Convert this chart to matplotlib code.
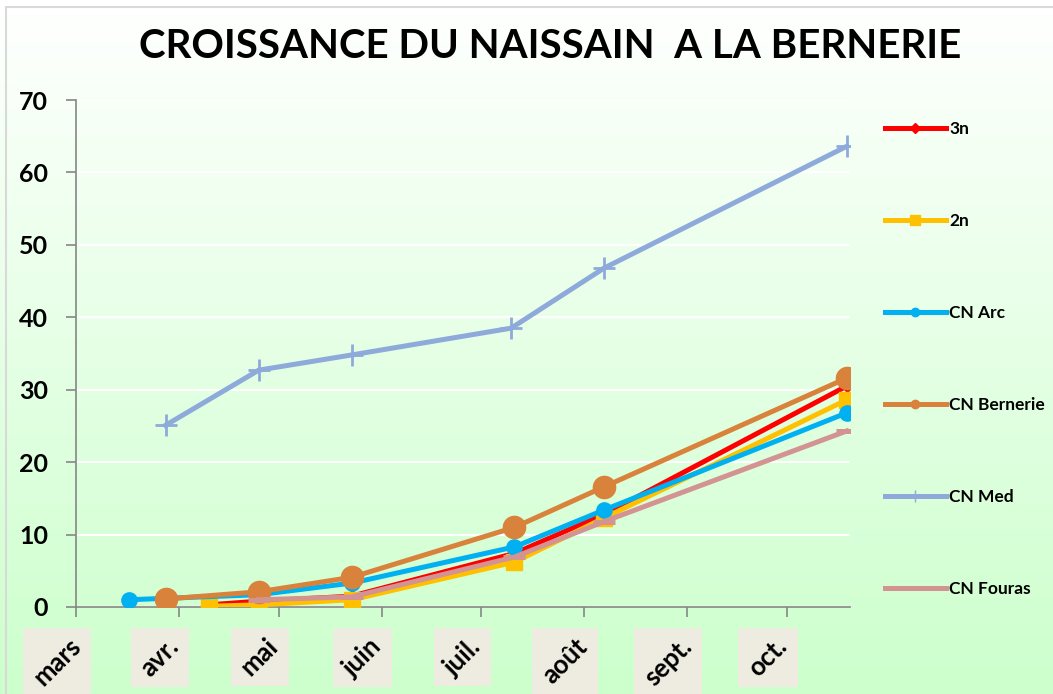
import datetime
import numpy as np
import matplotlib
matplotlib.use('Agg')
import matplotlib.pyplot as plt
import matplotlib.dates as mdates
import matplotlib.transforms as mtransforms
from matplotlib.lines import Line2D
from matplotlib.patches import Rectangle


def d(m, day):
    return datetime.date(2011, m, day)


# data
months = ['mars', 'avr.', 'mai', 'juin', 'juil.', 'août', 'sept.', 'oct.']
month_starts = [d(m, 1) for m in range(3, 11)]

dates_3n = [d(4, 10), d(4, 25), d(5, 23), d(7, 11), d(8, 7), d(10, 19)]
vals_3n = [0.3, 0.8, 1.5, 7.4, 12.8, 30.5]

dates_2n = [d(4, 10), d(4, 25), d(5, 23), d(7, 11), d(8, 7), d(10, 19)]
vals_2n = [0.1, 0.3, 1.0, 6.2, 12.3, 28.6]

dates_arc = [d(3, 17), d(3, 28), d(4, 25), d(5, 23), d(7, 11), d(8, 7), d(10, 19)]
vals_arc = [1.0, 1.2, 1.7, 3.3, 8.3, 13.4, 26.8]

dates_bern = [d(3, 28), d(4, 25), d(5, 23), d(7, 11), d(8, 7), d(10, 19)]
vals_bern = [1.1, 2.1, 4.1, 11.0, 16.6, 31.6]

dates_med = [d(3, 28), d(4, 25), d(5, 23), d(7, 10), d(8, 7), d(10, 19)]
vals_med = [25.1, 32.7, 34.8, 38.5, 46.8, 63.6]

dates_four = [d(4, 25), d(5, 23), d(7, 11), d(8, 7), d(10, 19)]
vals_four = [1.0, 1.4, 6.9, 11.8, 24.3]

W, H = 1053, 694
plt.rcParams['font.family'] = ['Lato', 'DejaVu Sans']
plt.rcParams['font.weight'] = 'bold'

fig = plt.figure(figsize=(W / 100, H / 100), dpi=100)

# gradient background over the whole figure
bg = fig.add_axes([0, 0, 1, 1], zorder=-10)
top = np.array([1.0, 1.0, 1.0])
bot = np.array([0.80, 1.0, 0.80])
t = np.linspace(0, 1, 256)[:, None]
grad = top + (bot - top) * t
bg.imshow(grad[:, None, :].repeat(2, axis=1), aspect='auto', extent=[0, 1, 0, 1])
bg.set_xlim(0, 1)
bg.set_ylim(0, 1)
bg.axis('off')
bg.add_patch(Rectangle((6 / W, -0.1), 1.2, 1.1 - 7 / H, fill=False,
                       edgecolor='#d9d9d9', lw=1.5))

ax = fig.add_axes([76 / W, 1 - 607 / H, (850 - 76) / W, (607 - 100) / H])
ax.set_facecolor('none')

lw = 3.6
ax.plot(dates_3n, vals_3n, color='#ff0000', lw=lw, marker='D', ms=6, zorder=3)
ax.plot(dates_2n, vals_2n, color='#ffc000', lw=lw, marker='s', ms=11, zorder=4)
ax.plot(dates_arc, vals_arc, color='#00b0f0', lw=lw, marker='o', ms=11, zorder=5)
ax.plot(dates_bern, vals_bern, color='#d9823b', lw=lw, marker='o', ms=16, zorder=6)
ax.plot(dates_med, vals_med, color='#8eaadb', lw=lw, marker='+', ms=16, mew=2, zorder=7)
ax.plot(dates_four, vals_four, color='#d39393', lw=lw, marker='_', ms=16, mew=lw, zorder=8)

ax.set_xlim(d(3, 1), d(10, 20))
ax.set_ylim(0, 70)
ax.set_yticks(range(0, 71, 10))
ax.yaxis.grid(True, color='white', lw=1.5)
ax.set_axisbelow(True)
for s in ['top', 'right']:
    ax.spines[s].set_visible(False)
for s in ['left', 'bottom']:
    ax.spines[s].set_color('#868686')
    ax.spines[s].set_linewidth(1.2)
ax.tick_params(axis='y', length=7, width=1.2, color='#868686', pad=13, labelsize=18)
ax.set_xticks(month_starts)
ax.set_xticklabels([])
ax.tick_params(axis='x', length=7, width=1.2, color='#868686')

# month labels, rotated, on beige boxes
off = mtransforms.ScaledTranslation(-19 / 100, 0, fig.dpi_scale_trans)
trans = mtransforms.blended_transform_factory(ax.transData, fig.transFigure) + off
labels = []
for ms_, name in zip(month_starts, months):
    txt = ax.text(mdates.date2num(ms_), 1 - 634 / H, name, transform=trans,
                  rotation=45, ha='center', va='top', fontsize=18.5,
                  fontweight='bold', zorder=5, clip_on=False)
    labels.append(txt)

fig.suptitle('CROISSANCE DU NAISSAIN  A LA BERNERIE', x=550 / W, y=1 - 46 / H,
             va='center', fontsize=29, fontweight='bold')

handles = [
    Line2D([], [], color='#ff0000', lw=lw, marker='D', ms=5),
    Line2D([], [], color='#ffc000', lw=lw, marker='s', ms=7),
    Line2D([], [], color='#00b0f0', lw=lw, marker='o', ms=6),
    Line2D([], [], color='#d9823b', lw=lw, marker='o', ms=6),
    Line2D([], [], color='#8eaadb', lw=lw, marker='+', ms=9, mew=1),
    Line2D([], [], color='#d39393', lw=lw),
]
names = ['3n', '2n', 'CN Arc', 'CN Bernerie', 'CN Med', 'CN Fouras']
fig.legend(handles, names, loc='upper left', bbox_to_anchor=(885 / W, 1 - 121 / H),
           frameon=False, handlelength=3.5, handletextpad=0.2,
           labelspacing=4.38, borderpad=0, borderaxespad=0,
           prop={'weight': 'bold', 'size': 12.5})

fig.canvas.draw()
r = fig.canvas.get_renderer()
for txt in labels:
    bb = txt.get_window_extent(r)
    pad = 6
    fig.add_artist(Rectangle((bb.x0 - pad, bb.y0 - pad), bb.width + 2 * pad,
                             bb.height + 2 * pad, transform=None,
                             facecolor='#eeebe0', edgecolor='none', zorder=-5))

fig.savefig('out.png', dpi=100)
